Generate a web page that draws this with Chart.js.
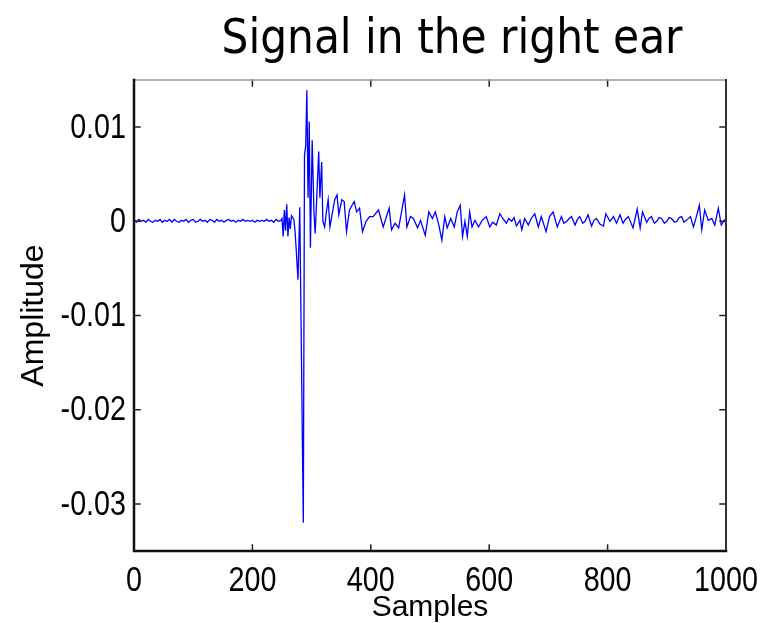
<!DOCTYPE html>
<html>
<head>
<meta charset="utf-8">
<script src="https://cdn.jsdelivr.net/npm/chart.js@4.4.0/dist/chart.umd.min.js"></script>
<style>
  html, body { margin: 0; padding: 0; background: #fff; }
  #wrap { width: 772px; height: 623px; }
</style>
</head>
<body>
<div id="wrap"><canvas id="signalChart"></canvas></div>
<script>
const TITLE = "Signal in the right ear";

// samples / amplitude
const sampleIdx = [
  0, 4, 8, 12, 16, 20, 24, 28, 32, 36, 40, 44, 48, 52, 56, 60, 64, 68, 72, 76, 80, 84, 88, 92, 96, 100,
  104, 108, 112, 116, 120, 124, 128, 132, 136, 140, 144, 148, 152, 156, 160, 164, 168, 172, 176, 180,
  184, 188, 192, 196, 200, 204, 208, 212, 216, 220, 224, 228, 232, 236, 240, 244, 248,
  250, 252, 254, 256, 258, 260, 262, 264, 266, 268, 270, 272, 274, 277, 280, 286, 288, 290, 292, 294, 296, 298, 301, 304, 306, 308,
  312, 314, 317, 319, 322, 325, 328, 331, 334, 339, 343, 346, 351, 355, 359, 364, 372, 376, 381, 386, 392, 398, 404, 413, 421, 431,
  435, 441, 447, 450, 457, 461, 467, 472, 479, 484, 492, 498, 504, 509, 515, 520, 525, 529, 535, 541, 546, 551, 555, 559, 563, 567,
  571, 576, 582, 588, 595, 601, 606, 612, 618, 623, 629, 633, 638, 642, 646, 652, 655, 660, 666, 671, 677, 683, 688, 696, 702, 708, 715, 722,
  726, 731, 735, 739, 745, 749, 753, 758, 762, 767, 773, 777, 781, 787, 793, 797, 804, 810, 815, 821, 826, 830, 835, 843, 850, 855, 859, 866,
  870, 874, 879, 883, 887, 891, 896, 900, 904, 908, 913, 917, 921, 925, 929, 933, 940, 945, 950, 955, 959, 964, 970, 976, 981, 987, 992, 997, 1000
];
const amplitude = [
  0.0002, -0.0001, 0.0002, 0.0000, 0.0001, -0.0001, 0.0002, 0.0000, -0.0001, 0.0001, 0.0000, 0.0002, -0.0001, 0.0001, 0.0000, 0.0002, -0.0001, 0.0002, 0.0000, -0.0001, 0.0001, 0.0000, 0.0002, -0.0001, 0.0001, 0.0002,
  -0.0001, 0.0000, 0.0002, 0.0000, 0.0001, -0.0001, 0.0002, 0.0001, -0.0001, 0.0002, 0.0000, 0.0001, -0.0001, 0.0001, 0.0002, 0.0000, 0.0001, -0.0001, 0.0001, 0.0000,
  0.0002, 0.0000, 0.0001, 0.0000, 0.0001, -0.0001, 0.0001, 0.0000, 0.0001, 0.0000, 0.0002, 0.0000, 0.0001, -0.0001, 0.0002, 0.0000, 0.0001,
  0.0003, -0.0016, 0.0012, -0.0010, 0.0018, -0.0016, 0.0004, -0.0008, 0.0006, 0.0004, 0.0002, -0.0010, -0.0030, -0.0062, 0.0015, -0.0320, 0.0070, 0.0080, 0.0139, 0.0025, 0.0106, -0.0028, 0.0086, 0.0009, -0.0013, 0.0015,
  0.0074, 0.0025, 0.0063, 0.0000, -0.0006, 0.0010, 0.0023, -0.0006, 0.0005, 0.0023, 0.0028, 0.0007, 0.0023, 0.0021, -0.0011, 0.0012, 0.0021, 0.0010, 0.0014, -0.0011, 0.0000, 0.0005, 0.0005, 0.0012, -0.0006, 0.0014,
  -0.0009, -0.0002, -0.0007, 0.0003, 0.0028, -0.0006, 0.0005, 0.0003, -0.0007, 0.0001, -0.0015, 0.0010, 0.0003, 0.0010, -0.0004, -0.0020, 0.0005, -0.0007, 0.0003, -0.0006, 0.0010, 0.0017, -0.0016, 0.0000, -0.0016, 0.0010,
  -0.0006, 0.0001, -0.0006, 0.0001, 0.0005, -0.0006, -0.0001, -0.0004, 0.0008, 0.0003, -0.0002, 0.0003, 0.0000, 0.0004, -0.0005, 0.0001, -0.0009, 0.0003, -0.0004, 0.0003, 0.0008, -0.0006, 0.0005, -0.0011, 0.0005, 0.0010, -0.0006, 0.0005,
  -0.0002, 0.0000, 0.0003, 0.0005, -0.0004, 0.0002, 0.0005, -0.0002, 0.0000, 0.0007, -0.0005, 0.0001, 0.0003, -0.0003, -0.0005, 0.0008, 0.0000, 0.0005, -0.0002, 0.0007, -0.0002, 0.0002, 0.0005, -0.0007, 0.0013, -0.0007, 0.0010, -0.0001,
  0.0003, 0.0005, -0.0002, 0.0000, 0.0004, 0.0003, -0.0002, 0.0000, 0.0004, 0.0003, -0.0001, 0.0000, 0.0004, 0.0005, -0.0001, 0.0001, 0.0005, -0.0006, 0.0005, 0.0017, -0.0009, 0.0012, 0.0001, 0.0003, -0.0004, 0.0014, -0.0004, 0.0001, 0.0002
];

const xTicks = [0, 200, 400, 600, 800, 1000];
const xTickLabels = ["0", "200", "400", "600", "800", "1000"];
const yTicks = [-0.03, -0.02, -0.01, 0, 0.01];
const yTickLabels = ["-0.03", "-0.02", "-0.01", "0", "0.01"];

const points = sampleIdx.map((s, i) => ({ x: s, y: amplitude[i] }));

// narrow text, the picture's labels are squeezed sideways
function narrowText(ctx, txt, x, y, align, squeeze) {
  ctx.save();
  ctx.translate(x, y);
  ctx.scale(squeeze, 1);
  ctx.textAlign = align;
  ctx.fillText(txt, 0, 0);
  ctx.restore();
}

// MATLAB style box with inward ticks on all sides, tick labels and the big title
const boxPlugin = {
  id: 'matlabBox',
  afterDatasetsDraw(chart) {
    const { ctx, chartArea: a, scales } = chart;
    const tl = 6;
    ctx.save();
    ctx.lineCap = 'square';
    ctx.strokeStyle = '#222';
    ctx.lineWidth = 1.5;
    xTicks.forEach(v => {
      const px = scales.x.getPixelForValue(v);
      ctx.beginPath();
      ctx.moveTo(px, a.bottom); ctx.lineTo(px, a.bottom - tl);
      ctx.moveTo(px, a.top); ctx.lineTo(px, a.top + tl);
      ctx.stroke();
    });
    yTicks.forEach(v => {
      const py = scales.y.getPixelForValue(v);
      ctx.beginPath();
      ctx.moveTo(a.left, py); ctx.lineTo(a.left + tl, py);
      ctx.moveTo(a.right, py); ctx.lineTo(a.right - tl, py);
      ctx.stroke();
    });
    // frame
    ctx.lineWidth = 1.5;
    ctx.strokeStyle = '#999';
    ctx.beginPath(); ctx.moveTo(a.left, a.top); ctx.lineTo(a.right, a.top); ctx.stroke();
    ctx.lineWidth = 2;
    ctx.strokeStyle = '#333';
    ctx.beginPath(); ctx.moveTo(a.right, a.top); ctx.lineTo(a.right, a.bottom); ctx.stroke();
    ctx.strokeStyle = '#111';
    ctx.lineWidth = 2.5;
    ctx.beginPath();
    ctx.moveTo(a.left, a.top); ctx.lineTo(a.left, a.bottom); ctx.lineTo(a.right, a.bottom);
    ctx.stroke();

    // tick labels
    ctx.fillStyle = '#000';
    ctx.font = '35px "Liberation Sans", Arial, sans-serif';
    ctx.textBaseline = 'alphabetic';
    xTicks.forEach((v, i) => {
      narrowText(ctx, xTickLabels[i], scales.x.getPixelForValue(v), a.bottom + 40, 'center', 0.82);
    });
    ctx.textBaseline = 'middle';
    yTicks.forEach((v, i) => {
      narrowText(ctx, yTickLabels[i], a.left - 8, scales.y.getPixelForValue(v) + 1, 'right', 0.82);
    });
    ctx.restore();
  },
  afterDraw(chart) {
    const ctx = chart.ctx;
    ctx.save();
    ctx.font = '48px "DejaVu Sans"';
    ctx.fillStyle = '#000';
    ctx.textBaseline = 'alphabetic';
    const w = ctx.measureText(TITLE).width;
    narrowText(ctx, TITLE, 452, 53, 'center', 461 / w);
    ctx.restore();
  }
};

new Chart(document.getElementById('signalChart'), {
  type: 'line',
  data: {
    datasets: [{
      data: points,
      borderColor: '#0000ff',
      borderWidth: 1.3,
      pointRadius: 0,
      tension: 0,
      fill: false
    }]
  },
  options: {
    responsive: true,
    maintainAspectRatio: false,
    animation: false,
    devicePixelRatio: 1,
    layout: { padding: { top: 80, right: 46, left: 0, bottom: 0 } },
    plugins: { legend: { display: false }, tooltip: { enabled: false }, title: { display: false } },
    scales: {
      x: {
        type: 'linear',
        min: 0,
        max: 1000,
        afterBuildTicks: scale => { scale.ticks = xTicks.map(v => ({ value: v })); },
        afterFit: scale => { scale.height = 72; },
        grid: { display: false, drawTicks: false },
        border: { display: false },
        ticks: { display: false },
        title: {
          display: true,
          text: 'Samples',
          color: '#000',
          padding: { top: 0, bottom: -3 },
          font: { family: '"Liberation Sans", Arial, sans-serif', size: 30 }
        }
      },
      y: {
        min: -0.035,
        max: 0.015,
        afterBuildTicks: scale => { scale.ticks = yTicks.map(v => ({ value: v })); },
        afterFit: scale => { scale.width = 134; },
        grid: { display: false, drawTicks: false },
        border: { display: false },
        ticks: { display: false },
        title: {
          display: true,
          text: 'Amplitude',
          color: '#000',
          padding: { top: 15, bottom: 0 },
          font: { family: '"Liberation Sans", Arial, sans-serif', size: 32 }
        }
      }
    }
  },
  plugins: [boxPlugin]
});
</script>
</body>
</html>
